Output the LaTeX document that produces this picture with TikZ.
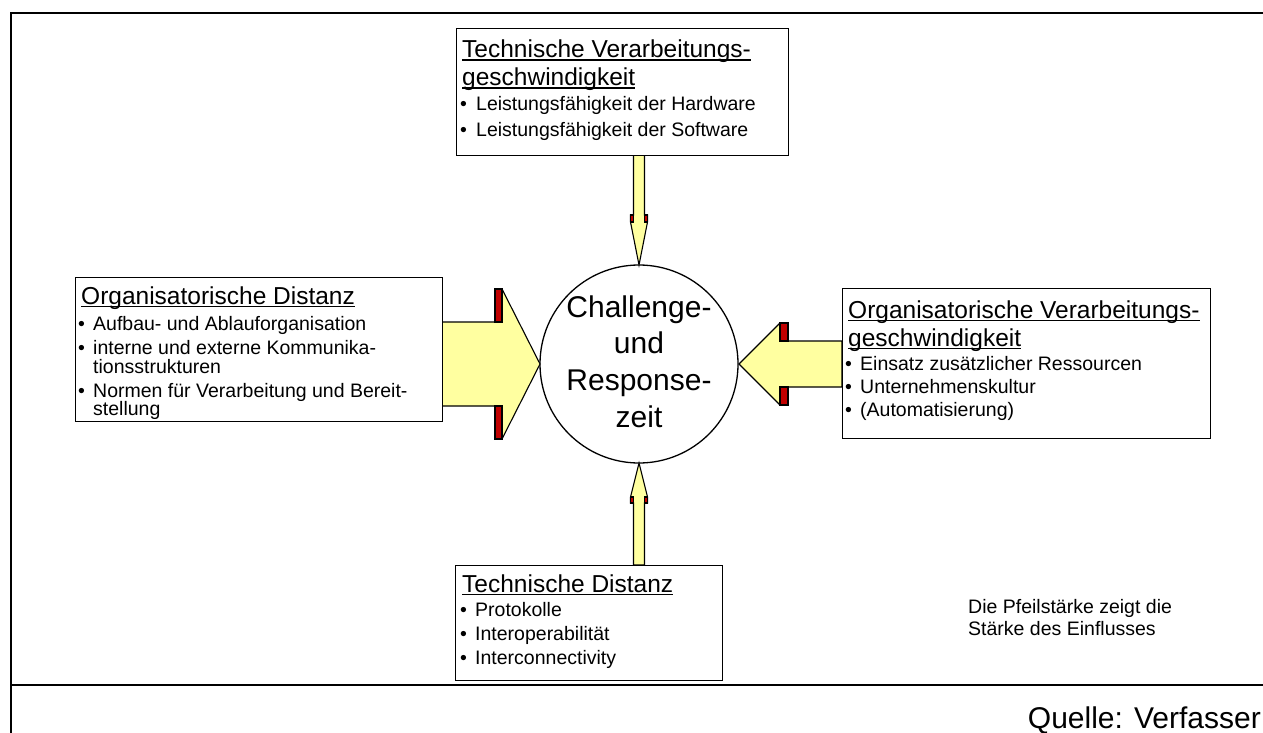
\documentclass[tikz,border=0pt]{standalone}
\usepackage{fontspec}
\setmainfont{Liberation Sans}
\definecolor{arrowyellow}{RGB}{255,255,160}
\definecolor{tabred}{RGB}{192,0,0}
\newcommand{\ulx}[1]{\setbox0=\hbox{#1}\rlap{\rule[-2.8pt]{\wd0}{1.3pt}}\box0}
\tikzset{
  frameline/.style={line width=2pt, draw=black},
  infobox/.style={draw=black, line width=1.3pt, fill=white, anchor=north west, inner sep=0pt},
  ttl/.style={anchor=base west, inner sep=0pt, font=\fontsize{24.5}{28}\selectfont},
  itm/.style={anchor=base west, inner sep=0pt, font=\fontsize{19.5}{21}\selectfont},
  bul/.style={anchor=base west, inner sep=0pt, font=\fontsize{19.5}{21}\selectfont},
  ctxt/.style={anchor=base, inner sep=0pt, font=\fontsize{30}{36}\selectfont},
  arr/.style={draw=black, line width=1.1pt, fill=arrowyellow, line join=miter},
  tabbox/.style={draw=black, line width=1.1pt, fill=tabred},
}
\begin{document}
\begin{tikzpicture}[x=1pt,y=-1pt]
\useasboundingbox (0,0) rectangle (1263,733);
% frame
\coordinate (f1) at (11,734);
\coordinate (f2) at (11,13);
\coordinate (f3) at (1264,13);
\coordinate (f4) at (11,685);
\coordinate (f5) at (1264,685);
\draw[frameline] (f1) -- (f2) -- (f3);
\draw[frameline] (f4) -- (f5);

% circle
\node[draw=black, circle, line width=1.3pt, fill=white, minimum size=198pt, inner sep=0pt] (c) at (639,364) {};

% left arrow
\draw[arr] (442,322) -- (495,322) -- (495,289) -- (502,289) -- (540,364) -- (502,439) -- (495,439) -- (495,406) -- (442,406) -- cycle;
\draw[tabbox] (495,289) rectangle (502,322);
\draw[tabbox] (495,406) rectangle (502,439);

% right arrow
\draw[arr] (842,341) -- (788,341) -- (788,323) -- (780,323) -- (739,364) -- (780,405) -- (788,405) -- (788,387) -- (842,387) -- cycle;
\draw[tabbox] (780,323) rectangle (788,341);
\draw[tabbox] (780,387) rectangle (788,405);

% top arrow
\draw[arr] (633.5,155) -- (633.5,215) -- (630.5,215) -- (630.5,222) -- (639,265) -- (647.5,222) -- (647.5,215) -- (644.5,215) -- (644.5,155) -- cycle;
\draw[tabbox] (630.5,215) rectangle (633.5,222);
\draw[tabbox] (644.5,215) rectangle (647.5,222);

% bottom arrow
\draw[arr] (633.5,565) -- (633.5,503) -- (630.5,503) -- (630.5,497) -- (639,463) -- (647.5,497) -- (647.5,503) -- (644.5,503) -- (644.5,565) -- cycle;
\draw[tabbox] (630.5,497) rectangle (633.5,503);
\draw[tabbox] (644.5,497) rectangle (647.5,503);

% boxes
\node[infobox, minimum width=332pt, minimum height=127pt] (tb) at (456,28) {};
\node[infobox, minimum width=367pt, minimum height=144pt] (lb) at (75,277) {};
\node[infobox, minimum width=368pt, minimum height=150pt] (rb) at (842,288) {};
\node[infobox, minimum width=267pt, minimum height=115pt] (bb) at (455,565) {};

% circle text
\node[ctxt] (c1) at (639,317) {Challenge-};
\node[ctxt] (c2) at (639,353) {und};
\node[ctxt] (c3) at (639,390) {Response-};
\node[ctxt] (c4) at (639,427) {zeit};

% top box text
\node[ttl] (t1) at (462,58) {\ulx{Technische Verarbeitungs-}};
\node[ttl] (t2) at (462,86) {\ulx{geschwindigkeit}};
\node[bul] (tb1) at (460,111) {•};
\node[itm] (ti1) at (476,111) {Leistungsfähigkeit der Hardware};
\node[bul] (tb2) at (460,136) {•};
\node[itm] (ti2) at (476,136) {Leistungsfähigkeit der Software};

% left box text
\node[ttl] (l1) at (81,304) {\ulx{Organisatorische Distanz}};
\node[bul] (lb1) at (78,330) {•};
\node[itm] (li1) at (93,330) {Aufbau- und Ablauforganisation};
\node[bul] (lb2) at (78,354) {•};
\node[itm] (li2) at (93,354) {interne und externe Kommunika-};
\node[itm] (li3) at (93,373) {tionsstrukturen};
\node[bul] (lb3) at (78,397) {•};
\node[itm] (li4) at (93,397) {Normen für Verarbeitung und Bereit-};
\node[itm] (li5) at (93,415) {stellung};

% right box text
\node[ttl] (r1) at (848,318) {\ulx{Organisatorische Verarbeitungs-}};
\node[ttl] (r2) at (848,346) {\ulx{geschwindigkeit}};
\node[bul] (rb1) at (845,370) {•};
\node[itm] (ri1) at (860,370) {Einsatz zusätzlicher Ressourcen};
\node[bul] (rb2) at (845,393) {•};
\node[itm] (ri2) at (860,393) {Unternehmenskultur};
\node[bul] (rb3) at (845,416) {•};
\node[itm] (ri3) at (860,416) {(Automatisierung)};

% bottom box text
\node[ttl] (b1) at (462,592) {\ulx{Technische Distanz}};
\node[bul] (bb1) at (460,616) {•};
\node[itm] (bi1) at (475,616) {Protokolle};
\node[bul] (bb2) at (460,640) {•};
\node[itm] (bi2) at (475,640) {Interoperabilität};
\node[bul] (bb3) at (460,664) {•};
\node[itm] (bi3) at (475,664) {Interconnectivity};

% note
\node[itm] (n1) at (968,613) {Die Pfeilstärke zeigt die};
\node[itm] (n2) at (968,635) {Stärke des Einflusses};

% source
\node[anchor=base east, inner sep=0pt, font=\fontsize{30}{34}\selectfont] (q) at (1261,728) {Quelle: Verfasser};
\end{tikzpicture}
\end{document}
